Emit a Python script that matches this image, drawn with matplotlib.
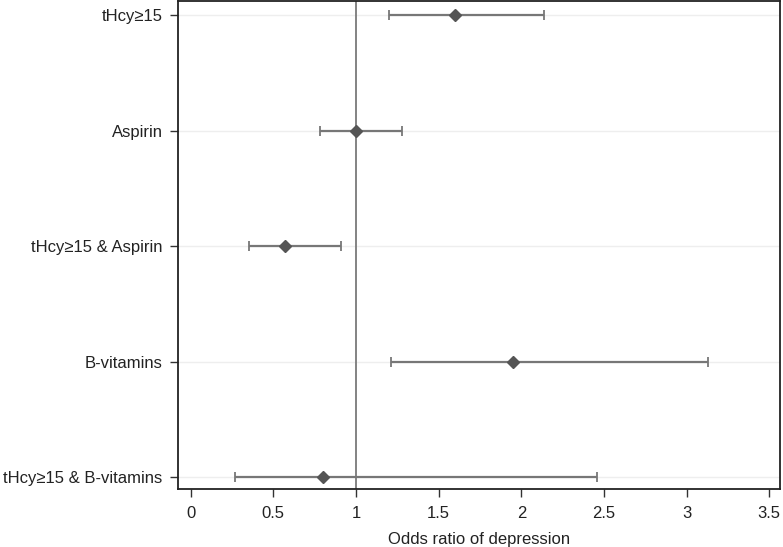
import matplotlib
matplotlib.use("Agg")
import matplotlib.pyplot as plt
import numpy as np

plt.rcParams['font.family'] = ['Liberation Sans', 'DejaVu Sans']

categories = ["tHcy\u226515", "Aspirin", "tHcy\u226515 & Aspirin", "B-vitamins", "tHcy\u226515 & B-vitamins"]
odds_ratio = [1.60, 1.00, 0.57, 1.95, 0.80]
ci_low = [1.20, 0.78, 0.355, 1.21, 0.265]
ci_high = [2.14, 1.28, 0.91, 3.13, 2.46]
xticks = [0, 0.5, 1, 1.5, 2, 2.5, 3, 3.5]
xticklabels = ["0", "0.5", "1", "1.5", "2", "2.5", "3", "3.5"]

fig = plt.figure(figsize=(7.83, 5.47), dpi=100)
ax = fig.add_axes([0.2273, 0.106, 0.7689, 0.892])

ypos = np.arange(len(categories))[::-1]
or_arr = np.array(odds_ratio)
err = [or_arr - np.array(ci_low), np.array(ci_high) - or_arr]

for y in ypos:
    ax.axhline(y, color='#eeeeee', lw=1.0, zorder=0)
ax.axvline(1, color='#7a7a7a', lw=1.3, zorder=1)

ax.errorbar(odds_ratio, ypos, xerr=err, fmt='D', color='#555555', ecolor='#777777',
            elinewidth=1.6, capsize=3.5, capthick=1.3, markersize=6.5, zorder=3)

ax.set_xlim(-0.077, 3.565)
ax.set_ylim(-0.1, 4.12)
ax.set_xticks(xticks)
ax.set_xticklabels(xticklabels)
ax.set_yticks(ypos)
ax.set_yticklabels(categories)
ax.tick_params(axis='both', direction='out', length=6, width=1.0, color='#333333',
               labelsize=12, labelcolor='#222222')
ax.tick_params(axis='x', pad=6)
ax.tick_params(axis='y', pad=5)
for s in ax.spines.values():
    s.set_color('#222222')
    s.set_linewidth(1.3)
ax.set_xlabel("Odds ratio of depression", fontsize=12, color='#222222', labelpad=8)

fig.savefig("out.png", dpi=100)
